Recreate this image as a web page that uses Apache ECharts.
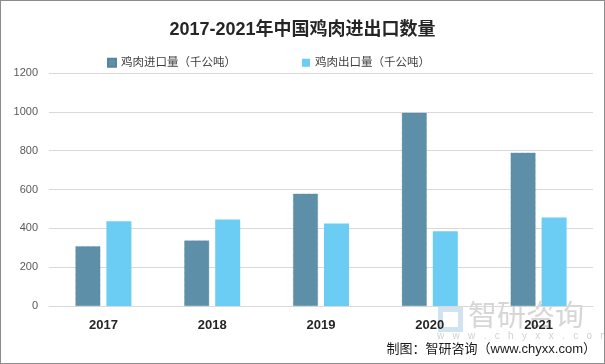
<!DOCTYPE html>
<html><head><meta charset="utf-8">
<script src="https://cdn.jsdelivr.net/npm/echarts@6/dist/echarts.min.js"></script>
<style>html,body{margin:0;padding:0;background:#fff}#c{width:605px;height:364px;box-sizing:border-box;border:1px solid #8c8c8c}</style>
</head><body><div id="c"></div>
<script>
const categories = ['2017','2018','2019','2020','2021'];
const importVals = [308, 338, 579, 995, 790];
const exportVals = [436, 446, 425, 385, 456];
const seriesNames = ['鸡肉进口量（千公吨）','鸡肉出口量（千公吨）'];
const yTicks = [0,200,400,600,800,1000,1200];

const chart = echarts.init(document.getElementById('c'));
const cjk = '"Liberation Sans","Noto Sans CJK SC",sans-serif';
chart.setOption({
  animation:false,
  title:{text:'2017-2021年中国鸡肉进出口数量',left:'center',top:15,
    textStyle:{fontSize:18,fontWeight:'bold',color:'#262626',fontFamily:cjk}},
  legend:{top:51,left:101,itemWidth:8,itemHeight:8,itemGap:66,icon:'rect',
    textStyle:{fontSize:11.5,color:'#404040',fontFamily:cjk}},
  grid:{left:48,right:11,top:72,bottom:57},
  xAxis:{type:'category',data:categories,
    axisLine:{lineStyle:{color:'#d9d9d9'}},axisTick:{show:false},
    axisLabel:{fontSize:13,fontWeight:'bold',color:'#262626',margin:13,fontFamily:cjk}},
  yAxis:{type:'value',min:yTicks[0],max:yTicks[yTicks.length-1],interval:200,
    axisLine:{show:false},axisTick:{show:false},
    splitLine:{lineStyle:{color:'#d9d9d9'}},
    axisLabel:{fontSize:11,color:'#595959',margin:11,fontFamily:cjk,formatter:v=>String(v)}},
  series:[
    {name:seriesNames[0],type:'bar',data:importVals,barWidth:25,barGap:'24%',
     itemStyle:{color:'#5d8fa8',borderColor:'#54869f',borderWidth:0.6,borderType:'dotted'}},
    {name:seriesNames[1],type:'bar',data:exportVals,barWidth:25,
     itemStyle:{color:'#6bcdf4'}}
  ],
  graphic:[
    {type:'rect',left:437,top:306,shape:{width:20,height:20},style:{fill:'none',stroke:'rgba(190,215,235,0.7)',lineWidth:5}},
    {type:'text',left:467,top:302,style:{text:'智研咨询',fontSize:29,fill:'rgba(165,165,165,0.45)',fontFamily:cjk}},
    {type:'text',left:436,top:330,style:{text:'w   w   w   .   c   h   y   x   x   .   c   o   m',fontSize:10,fill:'rgba(165,165,165,0.5)',fontFamily:cjk}},
    {type:'text',right:8,top:342,style:{text:'制图：智研咨询（www.chyxx.com）',fontSize:13,fill:'#1a1a1a',fontFamily:cjk}}
  ]
});
</script></body></html>
